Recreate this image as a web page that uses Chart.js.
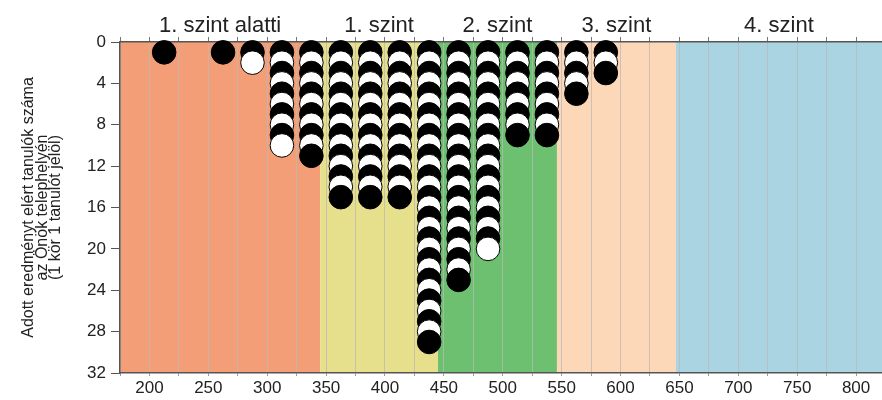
<!DOCTYPE html>
<html><head><meta charset="utf-8">
<script src="https://cdn.jsdelivr.net/npm/chart.js@4.4.1/dist/chart.umd.min.js"></script>
<style>html,body{margin:0;padding:0;background:#fff}canvas{display:block}</style>
</head><body>
<canvas id="c" width="882" height="400"></canvas>
<script>
// ---- data ----
const binCenters = [212.5, 262.5, 287.5, 312.5, 337.5, 362.5, 387.5, 412.5, 437.5, 462.5, 487.5, 512.5, 537.5, 562.5, 587.5];
const studentCounts = [1, 1, 2, 10, 11, 15, 15, 15, 29, 23, 20, 9, 9, 5, 3];
const levelNames = ['1. szint alatti', '1. szint', '2. szint', '3. szint', '4. szint'];
const levelStart = [175, 345, 445, 546, 647];
const levelEnd = [345, 445, 546, 647, 822];
const xTickLabels = [200, 250, 300, 350, 400, 450, 500, 550, 600, 650, 700, 750, 800];
const yTickLabels = [0, 4, 8, 12, 16, 20, 24, 28, 32];
const yTitleLines = ['Adott eredményt elért tanulók száma', 'az Önök telephelyén', '(1 kör 1 tanulót jelöl)'];

// ---- styles ----
const levelColors = ['#F49E78', '#E6E08C', '#6CC070', '#FCD8B8', '#AAD4E2'];
const FONT = "'Liberation Sans', Arial, sans-serif";
const TEXT = '#222';
const AXIS = '#555';
const GRID_STEP = 25;

const points = [], fills = [];
binCenters.forEach((x, i) => {
  for (let k = 1; k <= studentCounts[i]; k++) {
    points.push({x: x, y: k});
    fills.push(k % 2 === 1 ? '#000000' : '#ffffff');
  }
});

function gridTicks(s) {
  const t = [];
  for (let v = s.min; v <= s.max; v += GRID_STEP) t.push({value: v});
  s.ticks = t;
}

const bandsPlugin = {
  id: 'bands',
  beforeDraw(chart) {
    const {ctx, chartArea: a, scales: {x}} = chart;
    ctx.save();
    levelStart.forEach((s, i) => {
      const x0 = Math.max(a.left, x.getPixelForValue(s));
      const x1 = Math.min(a.right, x.getPixelForValue(levelEnd[i]));
      ctx.fillStyle = levelColors[i];
      ctx.fillRect(x0, a.top, x1 - x0, a.bottom - a.top);
    });
    ctx.restore();
  },
  afterDraw(chart) {
    const {ctx, chartArea: a, scales: {x}} = chart;
    ctx.save();
    ctx.font = '22px ' + FONT;
    ctx.fillStyle = TEXT;
    ctx.textAlign = 'center';
    ctx.textBaseline = 'alphabetic';
    levelNames.forEach((n, i) => {
      const x0 = Math.max(a.left, x.getPixelForValue(levelStart[i]));
      const x1 = Math.min(a.right, x.getPixelForValue(levelEnd[i]));
      ctx.fillText(n, (x0 + x1) / 2, 32);
    });
    ctx.restore();
  }
};

new Chart(document.getElementById('c'), {
  type: 'scatter',
  data: {
    datasets: [{
      data: points,
      pointBackgroundColor: fills,
      pointBorderColor: '#000000',
      pointBorderWidth: 1,
      pointRadius: 11.8,
      pointHoverRadius: 11.8,
      clip: false
    }]
  },
  options: {
    responsive: false,
    animation: false,
    devicePixelRatio: 1,
    layout: {autoPadding: false, padding: {left: 0, right: 0, top: 0, bottom: 0}},
    plugins: {legend: {display: false}, tooltip: {enabled: false}},
    scales: {
      x: {
        type: 'linear',
        position: 'bottom',
        min: levelStart[0],
        max: levelEnd[levelEnd.length - 1],
        afterBuildTicks: gridTicks,
        afterFit(s) { s.height = 27; s.paddingLeft = 0; s.paddingRight = 0; },
        ticks: {
          autoSkip: false,
          maxRotation: 0,
          padding: 2,
          color: TEXT,
          font: {family: FONT, size: 17},
          callback: v => xTickLabels.includes(v) ? String(v) : ''
        },
        grid: {color: 'rgba(185,185,185,0.75)', lineWidth: 1, drawTicks: true, tickLength: 3, tickColor: '#999'},
        border: {display: true, color: AXIS, width: 1.5}
      },
      x2: {
        type: 'linear',
        position: 'top',
        min: levelStart[0],
        max: levelEnd[levelEnd.length - 1],
        afterBuildTicks: gridTicks,
        afterFit(s) { s.height = 42; s.paddingLeft = 0; s.paddingRight = 0; },
        ticks: {display: false, autoSkip: false},
        grid: {drawOnChartArea: false, drawTicks: true, tickLength: 5, tickColor: '#777'},
        border: {display: true, color: AXIS, width: 1.5}
      },
      y: {
        type: 'linear',
        position: 'left',
        reverse: true,
        min: 0,
        max: 32,
        afterFit(s) { s.width = 120; },
        afterBuildTicks(s) { s.ticks = yTickLabels.map(v => ({value: v})); },
        ticks: {padding: 5, color: TEXT, font: {family: FONT, size: 17}},
        grid: {drawOnChartArea: false, drawTicks: true, tickLength: 9, tickColor: AXIS},
        border: {display: true, color: AXIS, width: 1.5},
        title: {
          display: true,
          text: yTitleLines,
          color: TEXT,
          font: {family: FONT, size: 16, lineHeight: 0.84},
          padding: {top: 22, bottom: 0}
        }
      }
    }
  },
  plugins: [bandsPlugin]
});
</script>
</body></html>
